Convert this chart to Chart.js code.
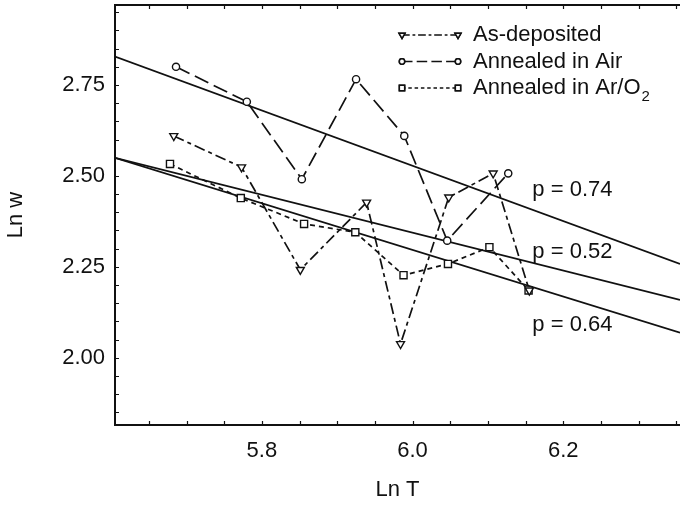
<!DOCTYPE html>
<html>
<head>
<meta charset="utf-8">
<script src="https://cdn.jsdelivr.net/npm/chart.js@4.4.1/dist/chart.umd.min.js"></script>
<style>
  html, body { margin: 0; padding: 0; background: #fff; }
  #wrap { width: 680px; height: 510px; }
</style>
</head>
<body>
<div id="wrap"><canvas id="myChart_lnw" width="680" height="510"></canvas></div>
<script>
// ---- data (Ln T, Ln w) ----
const asDepT = [5.683, 5.773, 5.851, 5.939, 5.984, 6.048, 6.107, 6.155];
const asDepW = [2.610, 2.524, 2.242, 2.427, 2.038, 2.441, 2.507, 2.185];
const airT = [5.686, 5.780, 5.853, 5.925, 5.989, 6.046, 6.127];
const airW = [2.800, 2.704, 2.491, 2.766, 2.610, 2.322, 2.507];
const arT = [5.678, 5.772, 5.856, 5.924, 5.988, 6.047, 6.102, 6.154];
const arW = [2.533, 2.439, 2.368, 2.345, 2.227, 2.258, 2.304, 2.185];

// fitted straight lines, value at both ends of the axis
const fitT = [5.605, 6.355];
const fit074 = [2.828, 2.258];
const fit052 = [2.5495, 2.159];
const fit064 = [2.5495, 2.069];

// fit labels: text, Ln T, Ln w
const pText = ["p = 0.74", "p = 0.52", "p = 0.64"];
const pAtT = [6.159, 6.159, 6.159];
const pAtW = [2.4615, 2.291, 2.091];

const xTicks = [5.65, 5.7, 5.75, 5.8, 5.85, 5.9, 5.95, 6.0, 6.05, 6.1, 6.15, 6.2, 6.25, 6.3, 6.35];
const xLabels = ["5.8", "6.0", "6.2"];
const yTicks = [1.85, 1.9, 1.95, 2.0, 2.05, 2.1, 2.15, 2.2, 2.25, 2.3, 2.35, 2.4, 2.45, 2.5, 2.55, 2.6, 2.65, 2.7, 2.75, 2.8, 2.85, 2.9, 2.95];
const yLabels = ["2.00", "2.25", "2.50", "2.75"];

const FONT = "'Liberation Sans', Arial, sans-serif";
const pts = (xs, ys) => xs.map((x, i) => ({ x: x, y: ys[i] }));

const series = [
  { label: "As-deposited", t: asDepT, w: asDepW, dash: [11, 4, 4, 4], style: "triangle", rot: 180, r: 4.6 },
  { label: "Annealed in Air", t: airT, w: airW, dash: [15, 6], style: "circle", rot: 0, r: 3.6 },
  { label: "Annealed in Ar/O", sub: "2", t: arT, w: arW, dash: [5, 4], style: "rect", rot: 0, r: 5 },
];

const datasets = series.map((s) => ({
  label: s.label,
  data: pts(s.t, s.w),
  showLine: true,
  borderColor: "#111",
  borderWidth: 1.7,
  borderDash: s.dash,
  pointStyle: s.style,
  pointRotation: s.rot,
  pointRadius: s.r,
  pointBackgroundColor: "#fff",
  pointBorderColor: "#111",
  pointBorderWidth: 1.4,
  order: 1,
}));
[fit074, fit052, fit064].forEach((f, i) => {
  datasets.push({
    label: pText[i],
    data: pts(fitT, f),
    showLine: true,
    borderColor: "#111",
    borderWidth: 1.7,
    pointRadius: 0,
    order: 2,
  });
});

// inward ticks, top frame, legend and p labels
const extras = {
  id: "extras",
  afterDraw(chart) {
    const ctx = chart.ctx;
    const xs = chart.scales.x, ys = chart.scales.y;
    const a = chart.chartArea;
    ctx.save();
    ctx.strokeStyle = "#111";
    ctx.lineWidth = 1.2;
    ctx.beginPath();
    xTicks.forEach((v) => {
      const px = Math.round(xs.getPixelForValue(v)) + 0.5;
      ctx.moveTo(px, a.bottom); ctx.lineTo(px, a.bottom - 4);
      ctx.moveTo(px, a.top); ctx.lineTo(px, a.top + 4);
    });
    yTicks.forEach((v) => {
      const py = Math.round(ys.getPixelForValue(v)) + 0.5;
      ctx.moveTo(a.left, py); ctx.lineTo(a.left + 4, py);
    });
    ctx.stroke();
    ctx.lineWidth = 2;
    ctx.beginPath();
    ctx.moveTo(a.left, a.top); ctx.lineTo(a.right, a.top);
    ctx.stroke();

    // legend
    ctx.font = "22px " + FONT;
    ctx.fillStyle = "#111";
    ctx.textBaseline = "middle";
    ctx.textAlign = "left";
    series.forEach((s, i) => {
      const y = 35 + i * 26.5;
      ctx.lineWidth = 1.5;
      ctx.setLineDash(s.dash.map((d) => d * 0.7));
      ctx.beginPath();
      ctx.moveTo(402, y); ctx.lineTo(458, y);
      ctx.stroke();
      ctx.setLineDash([]);
      [402, 458].forEach((px) => {
        const opts = { pointStyle: s.style, rotation: s.rot, radius: s.r * 0.75, borderWidth: 1.2 };
        ctx.fillStyle = "#fff";
        Chart.helpers.drawPoint(ctx, opts, px, y);
        ctx.fill();
        ctx.stroke();
      });
      ctx.fillStyle = "#111";
      ctx.fillText(s.label, 473, y);
      if (s.sub) {
        const wdt = ctx.measureText(s.label).width;
        ctx.font = "15px " + FONT;
        ctx.fillText(s.sub, 473 + wdt + 1, y + 9);
        ctx.font = "22px " + FONT;
      }
    });

    // p labels
    pText.forEach((t, i) => {
      ctx.fillText(t, xs.getPixelForValue(pAtT[i]), ys.getPixelForValue(pAtW[i]));
    });
    ctx.restore();
  },
};

const ctx_lnw = document.getElementById("myChart_lnw").getContext("2d");
const myChart_lnw = new Chart(ctx_lnw, {
  type: "scatter",
  data: { datasets: datasets },
  options: {
    responsive: false,
    animation: false,
    devicePixelRatio: 1,
    layout: { autoPadding: false, padding: { top: 5, right: 0, left: 0, bottom: 0 } },
    plugins: { legend: { display: false }, tooltip: { enabled: false } },
    scales: {
      x: {
        type: "linear",
        min: 5.605,
        max: 6.355,
        afterBuildTicks: (s) => { s.ticks = xTicks.map((v) => ({ value: v })); },
        afterFit: (s) => { s.height = 85; s.paddingRight = 0; s.paddingLeft = 0; },
        grid: { display: true, drawOnChartArea: false, drawTicks: false },
        border: { display: true, color: "#111", width: 2 },
        ticks: {
          padding: 13,
          color: "#111",
          font: { size: 22, family: FONT },
          maxRotation: 0,
          autoSkip: false,
          callback: (v) => { const l = v.toFixed(1); return xLabels.includes(l) && Math.abs(v - parseFloat(l)) < 1e-6 ? l : ""; },
        },
        title: { display: true, text: "Ln T", color: "#111", font: { size: 22, family: FONT }, padding: { top: 0, bottom: 7 } },
      },
      y: {
        type: "linear",
        min: 1.815,
        max: 2.97,
        afterBuildTicks: (s) => { s.ticks = yTicks.map((v) => ({ value: v })); },
        afterFit: (s) => { s.width = 115; s.paddingTop = 0; s.paddingBottom = 0; },
        grid: { display: true, drawOnChartArea: false, drawTicks: false },
        border: { display: true, color: "#111", width: 2 },
        ticks: {
          padding: 10,
          color: "#111",
          font: { size: 22, family: FONT },
          autoSkip: false,
          callback: (v) => { const l = v.toFixed(2); return yLabels.includes(l) && Math.abs(v - parseFloat(l)) < 1e-6 ? l : ""; },
        },
        title: { display: true, text: "Ln w", color: "#111", font: { size: 22, family: FONT }, padding: { top: 3, bottom: 0 } },
      },
    },
  },
  plugins: [extras],
});
</script>
</body>
</html>
